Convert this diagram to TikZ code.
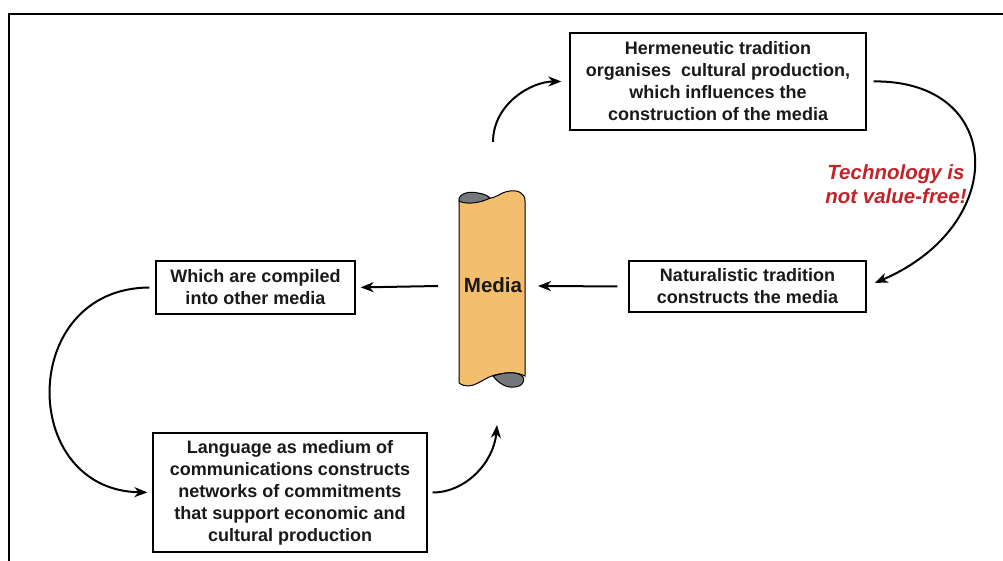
\documentclass[tikz,border=0pt]{standalone}
\usepackage{fontspec}
\setmainfont{Liberation Sans}
\usetikzlibrary{arrows.meta}
\definecolor{scrollfill}{RGB}{243,190,110}
\definecolor{scrollgray}{RGB}{115,120,125}
\definecolor{techred}{RGB}{195,35,40}
\definecolor{txt}{RGB}{25,25,25}
\tikzset{
  textbox/.style={draw=black, line width=1.2pt, fill=white, align=center, text=txt,
    inner sep=0pt, font=\fontsize{18}{22}\selectfont\bfseries},
  flow/.style={line width=2pt, -{Stealth[length=13pt,width=10pt,inset=4pt]}},
}
\begin{document}
\begin{tikzpicture}[x=1pt,y=-1pt]
\useasboundingbox (0,0) rectangle (1003,561);
% frame
\draw[line width=2.2pt] (9,561) -- (9,14) -- (1003,14);

% boxes
\node[textbox, minimum width=296pt, minimum height=97pt] (herm) at (718,81.5)
  {Hermeneutic tradition\\organises\ \ cultural production,\\which influences the\\construction of the media};
\node[textbox, minimum width=237pt, minimum height=51pt] (nat) at (747.5,286.5)
  {Naturalistic tradition\\constructs the media};
\node[textbox, minimum width=199pt, minimum height=53pt] (which) at (255.5,287.5)
  {Which are compiled\\into other media};
\node[textbox, minimum width=274pt, minimum height=119pt] (lang) at (290,492.5)
  {Language as medium of\\communications constructs\\networks of commitments\\that support economic and\\cultural production};

% scroll
\draw[line width=1pt, fill=scrollfill]
  (459,200) -- (459,383)
  .. controls (472,392) and (482,378) .. (495,375)
  .. controls (507,372) and (517,372) .. (525,376)
  -- (525,201)
  .. controls (525,193) and (518,190) .. (510,191)
  .. controls (500,192) and (496,199) .. (488,198)
  .. controls (478,197) and (466,191) .. (459,200) -- cycle;
\draw[line width=1pt, fill=scrollgray]
  (459,201) .. controls (458,193) and (470,191) .. (478,193)
  .. controls (485,194) and (488,196) .. (490,198)
  .. controls (481,203) and (466,205) .. (459,201) -- cycle;
\draw[line width=1pt, fill=scrollgray]
  (493,376) .. controls (505,372) and (518,371) .. (523,377)
  .. controls (526,383) and (520,388) .. (510,387)
  .. controls (502,386) and (497,381) .. (493,376) -- cycle;
\node[font=\fontsize{20.5}{24}\selectfont\bfseries, text=txt] (media) at (493,285) {Media};

% free ends near the scroll
\coordinate (stop) at (493,142);
\coordinate (sbot) at (497,425);
\coordinate (mleft) at (438,286);
\coordinate (mright) at (538,286);

% annotation
\node[font=\fontsize{20.5}{24}\selectfont\bfseries\itshape, text=techred, align=center] (tech) at (896,184)
  {Technology is\\not value-free!};

% connectors
\draw[flow, shorten >=8pt] (stop) to[out=90, in=180] (herm.west);
\draw[flow, shorten <=7pt, shorten >=9pt] (herm.east) .. controls (1005,80) and (1010,225) .. (nat.east);
\draw[flow, shorten <=11pt] (nat.west) -- (mright);
\draw[flow, shorten >=5pt] (mleft) -- (which.east);
\draw[flow, shorten <=6pt, shorten >=5pt] (which.west) .. controls (18,288) and (18,490) .. (lang.west);
\draw[flow, shorten <=5pt] (lang.east) to[out=0, in=-95] (sbot);
\end{tikzpicture}
\end{document}
